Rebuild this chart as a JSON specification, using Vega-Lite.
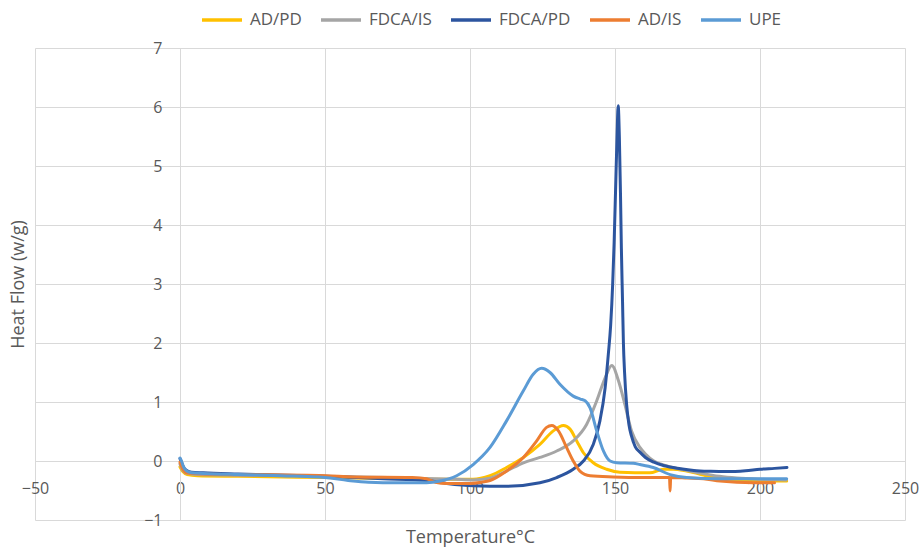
{
  "$schema": "https://vega.github.io/schema/vega-lite/v6.json",
  "width": 870,
  "height": 472,
  "autosize": {"type": "none"},
  "padding": {"left": 35, "top": 48, "right": 16, "bottom": 27},
  "background": "white",
  "config": {
    "view": {"stroke": null},
    "font": "Open Sans",
    "axis": {
      "gridColor": "#D9D9D9",
      "gridWidth": 1,
      "domainColor": "#D9D9D9",
      "domainWidth": 1,
      "ticks": false,
      "tickSize": 0,
      "labelFont": "Open Sans",
      "labelFontSize": 16,
      "labelColor": "#595959",
      "labelFlush": false,
      "titleFont": "Open Sans",
      "titleFontSize": 18,
      "titleFontWeight": "normal",
      "titleColor": "#595959"
    },
    "legend": {
      "labelFont": "Open Sans",
      "labelFontSize": 17,
      "labelColor": "#595959"
    }
  },
  "data": {
    "values": [
      {"series": "AD/PD", "t": 0, "h": -0.1},
      {"series": "AD/PD", "t": 1, "h": -0.18},
      {"series": "AD/PD", "t": 2.5, "h": -0.23},
      {"series": "AD/PD", "t": 6, "h": -0.25},
      {"series": "AD/PD", "t": 20, "h": -0.26},
      {"series": "AD/PD", "t": 50, "h": -0.28},
      {"series": "AD/PD", "t": 80, "h": -0.3},
      {"series": "AD/PD", "t": 90, "h": -0.31},
      {"series": "AD/PD", "t": 101, "h": -0.31},
      {"series": "AD/PD", "t": 106.9, "h": -0.25},
      {"series": "AD/PD", "t": 112.6, "h": -0.11},
      {"series": "AD/PD", "t": 118.4, "h": 0.06},
      {"series": "AD/PD", "t": 124.1, "h": 0.28},
      {"series": "AD/PD", "t": 128.7, "h": 0.51},
      {"series": "AD/PD", "t": 132.2, "h": 0.6},
      {"series": "AD/PD", "t": 134.5, "h": 0.54},
      {"series": "AD/PD", "t": 136.8, "h": 0.34},
      {"series": "AD/PD", "t": 139.1, "h": 0.14},
      {"series": "AD/PD", "t": 142.5, "h": -0.03},
      {"series": "AD/PD", "t": 147.1, "h": -0.14},
      {"series": "AD/PD", "t": 151.7, "h": -0.19},
      {"series": "AD/PD", "t": 162, "h": -0.2},
      {"series": "AD/PD", "t": 166.7, "h": -0.14},
      {"series": "AD/PD", "t": 170, "h": -0.14},
      {"series": "AD/PD", "t": 174.7, "h": -0.17},
      {"series": "AD/PD", "t": 183.9, "h": -0.28},
      {"series": "AD/PD", "t": 190, "h": -0.32},
      {"series": "AD/PD", "t": 197.7, "h": -0.34},
      {"series": "AD/PD", "t": 209.2, "h": -0.34},

      {"series": "FDCA/IS", "t": 0, "h": -0.05},
      {"series": "FDCA/IS", "t": 1, "h": -0.16},
      {"series": "FDCA/IS", "t": 2.5, "h": -0.21},
      {"series": "FDCA/IS", "t": 6, "h": -0.23},
      {"series": "FDCA/IS", "t": 20, "h": -0.24},
      {"series": "FDCA/IS", "t": 50, "h": -0.26},
      {"series": "FDCA/IS", "t": 80, "h": -0.29},
      {"series": "FDCA/IS", "t": 95, "h": -0.31},
      {"series": "FDCA/IS", "t": 101, "h": -0.32},
      {"series": "FDCA/IS", "t": 107, "h": -0.29},
      {"series": "FDCA/IS", "t": 112.6, "h": -0.17},
      {"series": "FDCA/IS", "t": 118.4, "h": -0.03},
      {"series": "FDCA/IS", "t": 124.1, "h": 0.06},
      {"series": "FDCA/IS", "t": 129.9, "h": 0.17},
      {"series": "FDCA/IS", "t": 135.6, "h": 0.34},
      {"series": "FDCA/IS", "t": 140.2, "h": 0.62},
      {"series": "FDCA/IS", "t": 143.7, "h": 1.02},
      {"series": "FDCA/IS", "t": 146.6, "h": 1.41},
      {"series": "FDCA/IS", "t": 148.9, "h": 1.62},
      {"series": "FDCA/IS", "t": 151.2, "h": 1.36},
      {"series": "FDCA/IS", "t": 153.4, "h": 0.96},
      {"series": "FDCA/IS", "t": 155.7, "h": 0.51},
      {"series": "FDCA/IS", "t": 158.6, "h": 0.23},
      {"series": "FDCA/IS", "t": 160.5, "h": 0.12},
      {"series": "FDCA/IS", "t": 163.4, "h": 0.0},
      {"series": "FDCA/IS", "t": 167, "h": -0.07},
      {"series": "FDCA/IS", "t": 170, "h": -0.11},
      {"series": "FDCA/IS", "t": 175, "h": -0.16},
      {"series": "FDCA/IS", "t": 180, "h": -0.21},
      {"series": "FDCA/IS", "t": 186, "h": -0.26},
      {"series": "FDCA/IS", "t": 192, "h": -0.29},
      {"series": "FDCA/IS", "t": 200, "h": -0.31},
      {"series": "FDCA/IS", "t": 209, "h": -0.32},

      {"series": "FDCA/PD", "t": 0, "h": 0.04},
      {"series": "FDCA/PD", "t": 0.5, "h": -0.02},
      {"series": "FDCA/PD", "t": 1.2, "h": -0.1},
      {"series": "FDCA/PD", "t": 2.3, "h": -0.16},
      {"series": "FDCA/PD", "t": 4, "h": -0.19},
      {"series": "FDCA/PD", "t": 8, "h": -0.2},
      {"series": "FDCA/PD", "t": 20, "h": -0.22},
      {"series": "FDCA/PD", "t": 50, "h": -0.26},
      {"series": "FDCA/PD", "t": 70, "h": -0.3},
      {"series": "FDCA/PD", "t": 85, "h": -0.33},
      {"series": "FDCA/PD", "t": 92, "h": -0.38},
      {"series": "FDCA/PD", "t": 101.1, "h": -0.42},
      {"series": "FDCA/PD", "t": 112.6, "h": -0.43},
      {"series": "FDCA/PD", "t": 124.1, "h": -0.37},
      {"series": "FDCA/PD", "t": 129.9, "h": -0.28},
      {"series": "FDCA/PD", "t": 135.6, "h": -0.14},
      {"series": "FDCA/PD", "t": 139.1, "h": 0.0},
      {"series": "FDCA/PD", "t": 142.5, "h": 0.28},
      {"series": "FDCA/PD", "t": 144.8, "h": 0.68},
      {"series": "FDCA/PD", "t": 146.6, "h": 1.24},
      {"series": "FDCA/PD", "t": 147.7, "h": 1.81},
      {"series": "FDCA/PD", "t": 148.5, "h": 2.3},
      {"series": "FDCA/PD", "t": 149.2, "h": 3.0},
      {"series": "FDCA/PD", "t": 149.7, "h": 3.7},
      {"series": "FDCA/PD", "t": 150.2, "h": 4.6},
      {"series": "FDCA/PD", "t": 150.7, "h": 5.5},
      {"series": "FDCA/PD", "t": 151.1, "h": 6.02},
      {"series": "FDCA/PD", "t": 151.5, "h": 5.5},
      {"series": "FDCA/PD", "t": 151.9, "h": 4.5},
      {"series": "FDCA/PD", "t": 152.2, "h": 3.6},
      {"series": "FDCA/PD", "t": 152.6, "h": 2.7},
      {"series": "FDCA/PD", "t": 152.9, "h": 2.0},
      {"series": "FDCA/PD", "t": 153.3, "h": 1.5},
      {"series": "FDCA/PD", "t": 154.0, "h": 0.96},
      {"series": "FDCA/PD", "t": 154.8, "h": 0.62},
      {"series": "FDCA/PD", "t": 155.7, "h": 0.42},
      {"series": "FDCA/PD", "t": 157, "h": 0.24},
      {"series": "FDCA/PD", "t": 158.6, "h": 0.15},
      {"series": "FDCA/PD", "t": 160.5, "h": 0.06},
      {"series": "FDCA/PD", "t": 163.4, "h": -0.02},
      {"series": "FDCA/PD", "t": 167, "h": -0.08},
      {"series": "FDCA/PD", "t": 172.6, "h": -0.13},
      {"series": "FDCA/PD", "t": 177.2, "h": -0.16},
      {"series": "FDCA/PD", "t": 183, "h": -0.175},
      {"series": "FDCA/PD", "t": 188.7, "h": -0.18},
      {"series": "FDCA/PD", "t": 195, "h": -0.165},
      {"series": "FDCA/PD", "t": 200, "h": -0.14},
      {"series": "FDCA/PD", "t": 205, "h": -0.125},
      {"series": "FDCA/PD", "t": 209.3, "h": -0.11},

      {"series": "AD/IS", "t": 0, "h": -0.02},
      {"series": "AD/IS", "t": 1, "h": -0.14},
      {"series": "AD/IS", "t": 2.3, "h": -0.2},
      {"series": "AD/IS", "t": 8, "h": -0.22},
      {"series": "AD/IS", "t": 50, "h": -0.25},
      {"series": "AD/IS", "t": 60, "h": -0.27},
      {"series": "AD/IS", "t": 80, "h": -0.28},
      {"series": "AD/IS", "t": 85, "h": -0.3},
      {"series": "AD/IS", "t": 88, "h": -0.36},
      {"series": "AD/IS", "t": 92, "h": -0.38},
      {"series": "AD/IS", "t": 100, "h": -0.38},
      {"series": "AD/IS", "t": 104, "h": -0.36},
      {"series": "AD/IS", "t": 106.9, "h": -0.33},
      {"series": "AD/IS", "t": 112.6, "h": -0.17},
      {"series": "AD/IS", "t": 118.4, "h": 0.06},
      {"series": "AD/IS", "t": 123, "h": 0.34},
      {"series": "AD/IS", "t": 126.4, "h": 0.57},
      {"series": "AD/IS", "t": 128.2, "h": 0.6},
      {"series": "AD/IS", "t": 130.5, "h": 0.51},
      {"series": "AD/IS", "t": 133.3, "h": 0.23},
      {"series": "AD/IS", "t": 135.6, "h": 0.0},
      {"series": "AD/IS", "t": 137.9, "h": -0.17},
      {"series": "AD/IS", "t": 141.4, "h": -0.25},
      {"series": "AD/IS", "t": 149.4, "h": -0.27},
      {"series": "AD/IS", "t": 160, "h": -0.28},
      {"series": "AD/IS", "t": 168.8, "h": -0.28},
      {"series": "AD/IS", "t": 169, "h": -0.51},
      {"series": "AD/IS", "t": 169.2, "h": -0.28},
      {"series": "AD/IS", "t": 175, "h": -0.29},
      {"series": "AD/IS", "t": 180.5, "h": -0.3},
      {"series": "AD/IS", "t": 186.2, "h": -0.34},
      {"series": "AD/IS", "t": 197.7, "h": -0.37},
      {"series": "AD/IS", "t": 205, "h": -0.37},

      {"series": "UPE", "t": 0, "h": 0.05},
      {"series": "UPE", "t": 0.5, "h": 0.0},
      {"series": "UPE", "t": 1.2, "h": -0.1},
      {"series": "UPE", "t": 2.3, "h": -0.17},
      {"series": "UPE", "t": 4, "h": -0.2},
      {"series": "UPE", "t": 8, "h": -0.21},
      {"series": "UPE", "t": 20, "h": -0.23},
      {"series": "UPE", "t": 35, "h": -0.25},
      {"series": "UPE", "t": 50, "h": -0.28},
      {"series": "UPE", "t": 58, "h": -0.33},
      {"series": "UPE", "t": 65, "h": -0.36},
      {"series": "UPE", "t": 75, "h": -0.37},
      {"series": "UPE", "t": 85, "h": -0.37},
      {"series": "UPE", "t": 89.7, "h": -0.34},
      {"series": "UPE", "t": 95.4, "h": -0.25},
      {"series": "UPE", "t": 101.1, "h": -0.06},
      {"series": "UPE", "t": 106.9, "h": 0.23},
      {"series": "UPE", "t": 112.6, "h": 0.68},
      {"series": "UPE", "t": 118.4, "h": 1.19},
      {"series": "UPE", "t": 121.8, "h": 1.47},
      {"series": "UPE", "t": 124.7, "h": 1.57},
      {"series": "UPE", "t": 127.6, "h": 1.5},
      {"series": "UPE", "t": 131, "h": 1.3},
      {"series": "UPE", "t": 135.6, "h": 1.1},
      {"series": "UPE", "t": 138, "h": 1.05},
      {"series": "UPE", "t": 139.7, "h": 1.02},
      {"series": "UPE", "t": 141.4, "h": 0.9},
      {"series": "UPE", "t": 143.7, "h": 0.51},
      {"series": "UPE", "t": 146, "h": 0.17},
      {"series": "UPE", "t": 148.3, "h": 0.0},
      {"series": "UPE", "t": 150.6, "h": -0.03},
      {"series": "UPE", "t": 156.3, "h": -0.04},
      {"series": "UPE", "t": 158.6, "h": -0.06},
      {"series": "UPE", "t": 163.2, "h": -0.11},
      {"series": "UPE", "t": 169, "h": -0.23},
      {"series": "UPE", "t": 174.7, "h": -0.28},
      {"series": "UPE", "t": 186.2, "h": -0.3},
      {"series": "UPE", "t": 209.2, "h": -0.3}
    ]
  },
  "mark": {"type": "line", "strokeWidth": 3, "interpolate": "monotone", "strokeCap": "round", "strokeJoin": "round"},
  "encoding": {
    "x": {
      "field": "t",
      "type": "quantitative",
      "scale": {"domain": [-50, 250], "nice": false, "zero": false},
      "axis": {
        "title": "Temperature°C",
        "values": [-50, 0, 50, 100, 150, 200, 250],
        "offset": {"expr": "scale('y', 0) - height"},
        "labelPadding": 19,
        "titlePadding": 32
      }
    },
    "y": {
      "field": "h",
      "type": "quantitative",
      "scale": {"domain": [-1, 7], "nice": false, "zero": false},
      "axis": {
        "title": "Heat Flow (w/g)",
        "values": [-1, 0, 1, 2, 3, 4, 5, 6, 7],
        "offset": {"expr": "-scale('x', 0)"},
        "labelPadding": 18,
        "titlePadding": 116
      }
    },
    "color": {
      "field": "series",
      "type": "nominal",
      "scale": {
        "domain": ["AD/PD", "FDCA/IS", "FDCA/PD", "AD/IS", "UPE"],
        "range": ["#FFC000", "#A5A5A5", "#2C559F", "#ED7D31", "#5B9BD5"]
      },
      "legend": {
        "title": null,
        "orient": "none",
        "direction": "horizontal",
        "legendX": 165,
        "legendY": -50,
        "symbolType": "stroke",
        "symbolSize": 1600,
        "symbolStrokeWidth": 3.5,
        "labelOffset": 6,
        "columnPadding": 12,
        "padding": 0
      }
    }
  }
}
